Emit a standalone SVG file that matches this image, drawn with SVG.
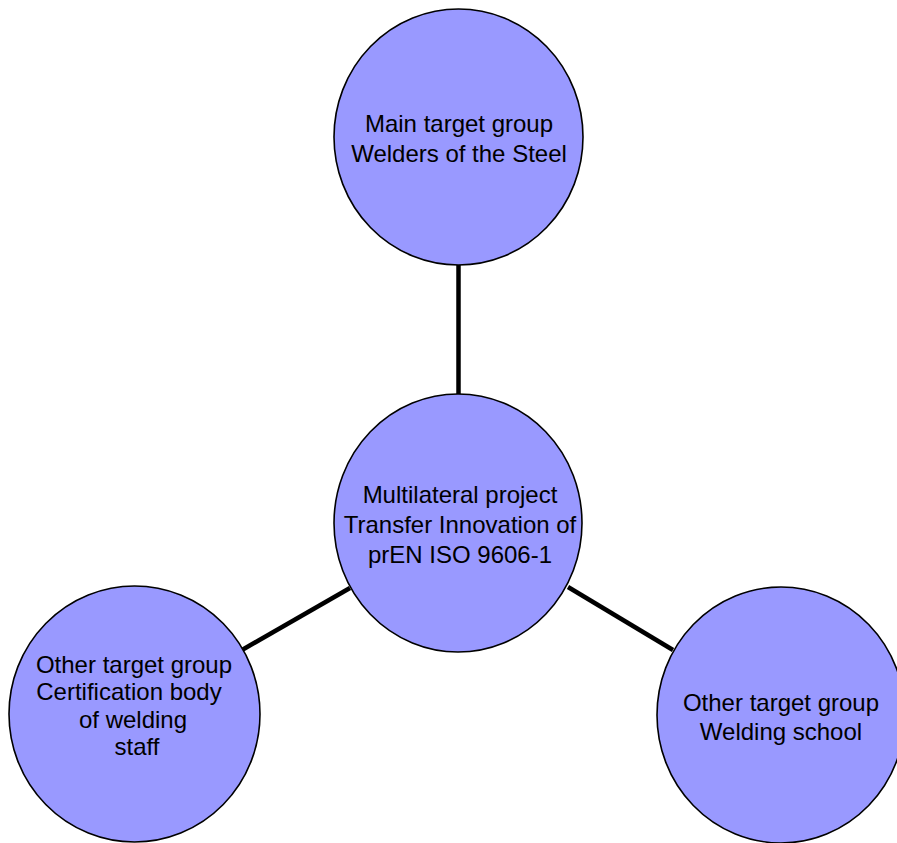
<svg xmlns="http://www.w3.org/2000/svg" width="897" height="843" viewBox="0 0 897 843">
<style>
.node{fill:#9999FF;stroke:#000;stroke-width:1.6}
.lbl{font-family:"Liberation Sans",Arial,sans-serif;font-size:24px;fill:#000;text-anchor:middle}
.conn{stroke:#000;stroke-width:4.5;fill:none}
</style>
<rect width="897" height="843" fill="#fff"/>
<g id="connectors">
<line class="conn" x1="458.5" y1="265" x2="458.5" y2="394"/>
<line class="conn" x1="350" y1="588" x2="242" y2="650"/>
<line class="conn" x1="568" y1="587" x2="673" y2="650"/>
</g>
<g id="top">
<ellipse class="node" cx="458.5" cy="137" rx="124.5" ry="128"/>
<text class="lbl" x="459" y="132">Main target group</text>
<text class="lbl" x="459" y="162">Welders of the Steel</text>
</g>
<g id="center">
<ellipse class="node" cx="458" cy="523" rx="124" ry="129"/>
<text class="lbl" x="460" y="503">Multilateral project</text>
<text class="lbl" x="460" y="533">Transfer Innovation of</text>
<text class="lbl" x="460" y="563">prEN ISO 9606-1</text>
</g>
<g id="left">
<ellipse class="node" cx="134.5" cy="714" rx="125.5" ry="128"/>
<text class="lbl" x="134" y="673">Other target group</text>
<text class="lbl" x="129" y="700">Certification body</text>
<text class="lbl" x="133" y="728">of welding</text>
<text class="lbl" x="137" y="755">staff</text>
</g>
<g id="right">
<ellipse class="node" cx="781" cy="715" rx="124" ry="128"/>
<text class="lbl" x="781" y="711">Other target group</text>
<text class="lbl" x="781" y="740">Welding school</text>
</g>
</svg>
